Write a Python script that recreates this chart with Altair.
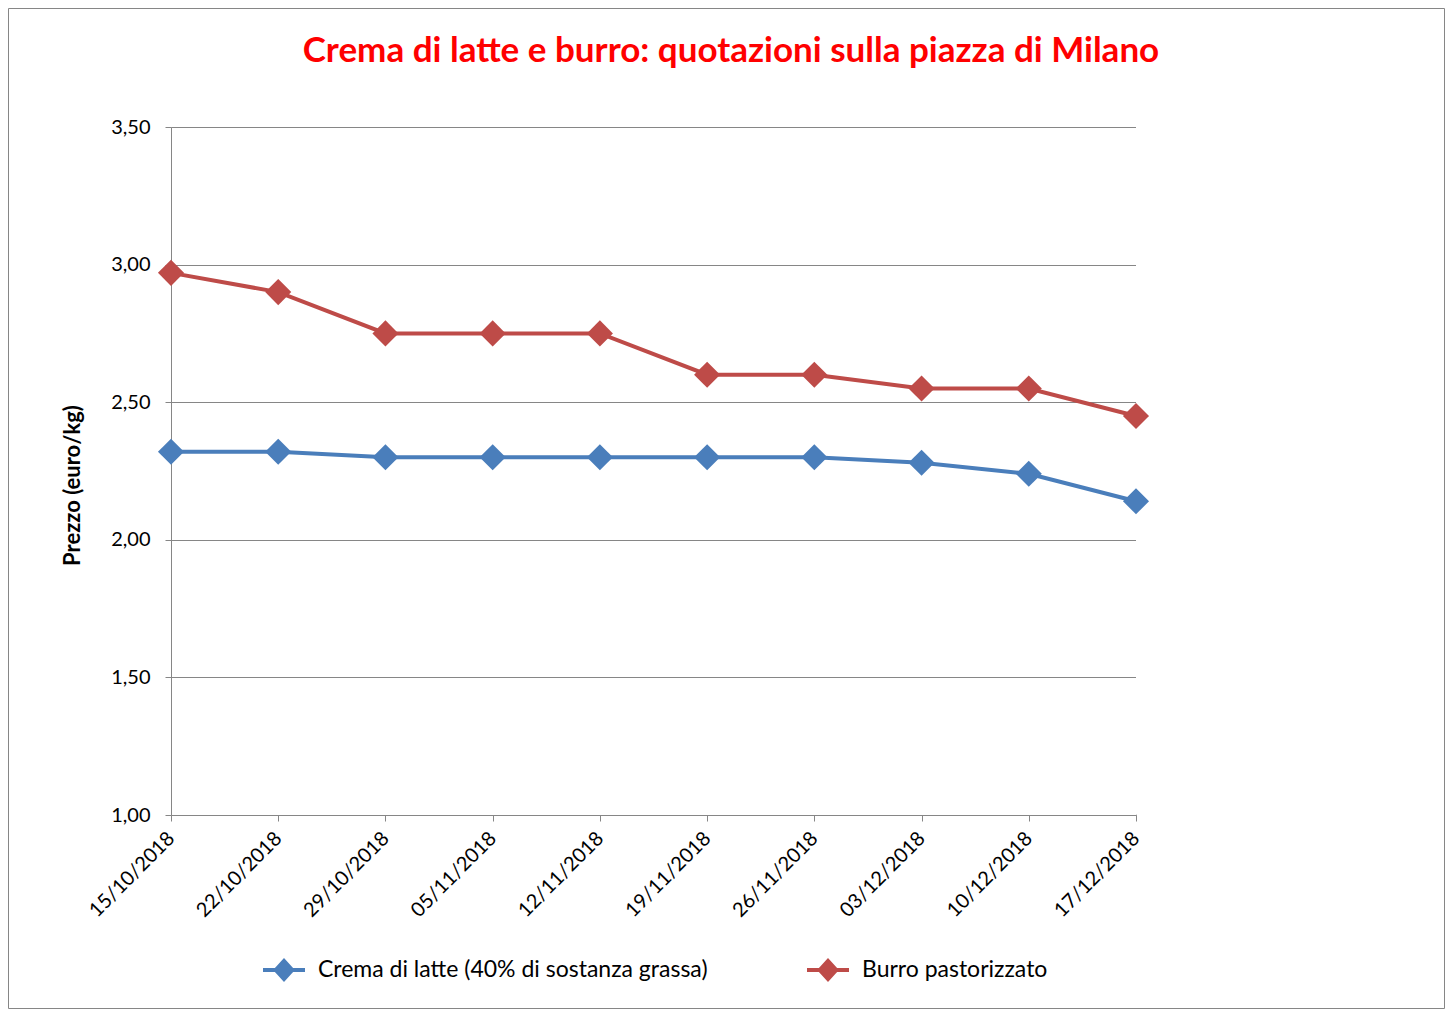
import altair as alt
import pandas as pd

title_text = "Crema di latte e burro: quotazioni sulla piazza di Milano"
dates = ["15/10/2018", "22/10/2018", "29/10/2018", "05/11/2018", "12/11/2018",
         "19/11/2018", "26/11/2018", "03/12/2018", "10/12/2018", "17/12/2018"]
crema = [2.32, 2.32, 2.30, 2.30, 2.30, 2.30, 2.30, 2.28, 2.24, 2.14]
burro = [2.97, 2.90, 2.75, 2.75, 2.75, 2.60, 2.60, 2.55, 2.55, 2.45]
series_names = ["Crema di latte (40% di sostanza grassa)", "Burro pastorizzato"]
series_colors = ["#4A7EBB", "#BE4B48"]
y_ticks = [1.0, 1.5, 2.0, 2.5, 3.0, 3.5]

rows = []
for name, vals in zip(series_names, [crema, burro]):
    for d, v in zip(dates, vals):
        rows.append({"Data": d, "Prezzo": v, "Serie": name})
df = pd.DataFrame(rows)

FONT = "Lato"
W, H = 965, 688
PAD = {"left": 163, "top": 119, "right": 309, "bottom": 194}
legend_symbol = ("M -1 -0.1 L 1 -0.1 L 1 0.1 L -1 0.1 Z "
                 "M 0 -0.57 L 0.52 0 L 0 0.57 L -0.52 0 Z")

x_enc = alt.X("Data:N", sort=dates,
              scale=alt.Scale(type="point", padding=0),
              axis=alt.Axis(title=None, labelAngle=-45, labelAlign="right",
                            labelBaseline="middle", labelFontSize=20,
                            labelPadding=14, tickSize=6, tickColor="#868686",
                            domainColor="#868686", labelColor="#000000",
                            labelFont=FONT, grid=False))
y_enc = alt.Y("Prezzo:Q",
              scale=alt.Scale(domain=[1.0, 3.5], nice=False, zero=False),
              axis=alt.Axis(values=y_ticks, title="Prezzo (euro/kg)",
                            labelExpr="replace(format(datum.value, '.2f'), '.', ',')",
                            labelFontSize=20, labelFont=FONT, labelColor="#000000",
                            labelPadding=15, tickSize=6, tickColor="#868686",
                            domainColor="#868686", gridColor="#868686",
                            titleFont=FONT, titleFontSize=22, titleFontWeight="bold",
                            titleColor="#000000", titleAngle=270,
                            titleX=-99, titleY=358, titleAlign="center",
                            titleBaseline="middle"))
color_scale = alt.Scale(domain=series_names, range=series_colors)
legend = alt.Legend(title=None, orient="none", direction="horizontal",
                    legendX=92, legendY=822, columns=2,
                    symbolType=legend_symbol, symbolSize=1764,
                    symbolStrokeWidth=0, symbolOpacity=1,
                    labelFontSize=23, labelFont=FONT, labelLimit=0,
                    labelColor="#000000", labelOffset=13,
                    columnPadding=99)

one = pd.DataFrame({"t": [title_text]})
total_w = PAD["left"] + W + PAD["right"]
total_h = PAD["top"] + H + PAD["bottom"]
# outer frame of the chart
frame = alt.Chart(one).mark_rect(fillOpacity=0, stroke="#868686", strokeWidth=1).encode(
    x=alt.value(0.5 - PAD["left"]), x2=alt.value(total_w - 0.5 - PAD["left"]),
    y=alt.value(0.5 - PAD["top"]), y2=alt.value(total_h - 0.5 - PAD["top"]),
)
# chart title
title = alt.Chart(one).mark_text(font=FONT, fontSize=35, fontWeight="bold",
                                 color="#FF0000", align="center", baseline="middle").encode(
    text="t:N", x=alt.value(560), y=alt.value(-76)
)
# white cover for the faint right border of the plot area
cover = alt.Chart(one).mark_rule(color="white", strokeWidth=2).encode(
    x=alt.value(W + 1), y=alt.value(0), y2=alt.value(H - 1)
)
lines = alt.Chart(df).mark_line(strokeWidth=4).encode(
    x=x_enc, y=y_enc,
    color=alt.Color("Serie:N", scale=color_scale, sort=series_names, legend=legend),
)
points = alt.Chart(df).mark_point(shape="diamond", filled=True, size=680, opacity=1).encode(
    x=x_enc, y=y_enc,
    color=alt.Color("Serie:N", scale=color_scale, sort=series_names, legend=legend),
)

chart = alt.layer(frame, title, cover, lines, points).properties(
    width=W, height=H,
    autosize=alt.AutoSizeParams(type="none"),
    padding=PAD,
).configure_view(strokeOpacity=0, strokeWidth=0).configure_axisX(grid=False).configure(background="white")

chart.save("out.html", embed_options={"renderer": "svg", "actions": False})
